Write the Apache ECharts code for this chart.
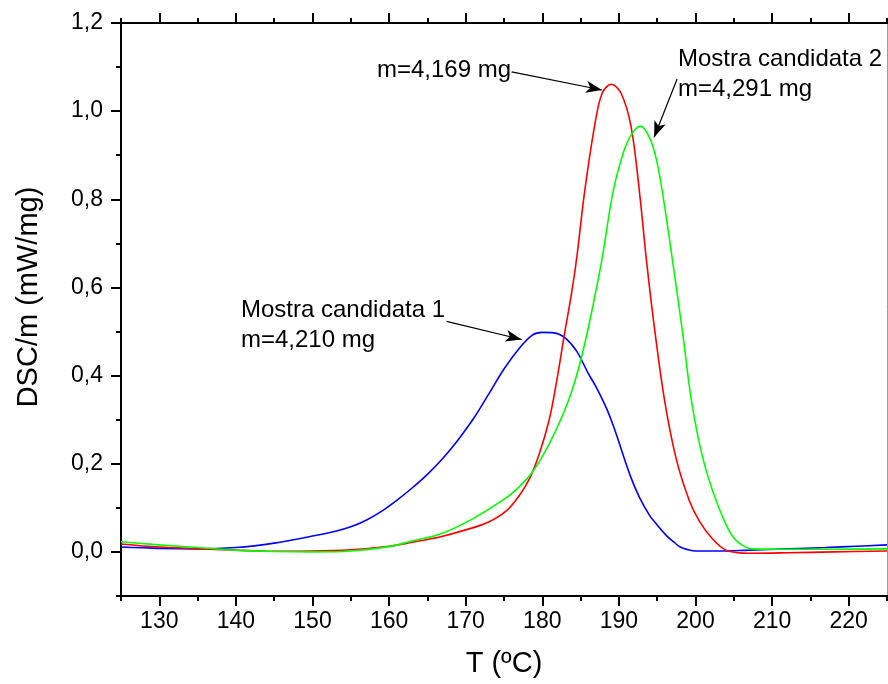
<!DOCTYPE html>
<html>
<head>
<meta charset="utf-8">
<script src="https://cdn.jsdelivr.net/npm/echarts@6/dist/echarts.min.js"></script>
<style>
html,body{margin:0;padding:0;background:#fff;}
#chart{width:888px;height:684px;}
</style>
</head>
<body>
<div id="chart"></div>
<script>
// ---- data ----
const blueT = [125,130,135,140,145,150,153,155,157,159,161,163,165,167,169,171,173,175,177,178.7,180,181.5,183,184.5,186,187,188.4,189.5,190.4,191.5,192.7,194,195,196.2,197.2,198,199,200,203,207,212,217,221,225];
const blueV = [0.011,0.008,0.007,0.010,0.020,0.036,0.047,0.057,0.072,0.092,0.117,0.145,0.176,0.212,0.254,0.302,0.358,0.415,0.462,0.492,0.498,0.497,0.485,0.455,0.405,0.375,0.325,0.275,0.228,0.172,0.123,0.083,0.061,0.037,0.022,0.011,0.005,0.002,0.002,0.004,0.007,0.010,0.013,0.016];

const redT = [125,130,135,140,145,150,155,160,163,166.6,170,173,175.3,177,178.3,179.6,180.9,181.8,182.9,183.8,184.5,185.5,186.8,187.8,189,190.3,191.6,192.7,193.6,194.7,196,197.5,199.2,200.5,202.2,204,207,212,218,225];
const redV = [0.018,0.011,0.007,0.004,0.0015,0.002,0.005,0.013,0.022,0.034,0.050,0.068,0.093,0.128,0.165,0.222,0.300,0.380,0.495,0.585,0.668,0.814,0.964,1.040,1.061,1.040,0.964,0.814,0.661,0.500,0.340,0.210,0.116,0.070,0.030,0.004,-0.003,-0.002,0.000,0.002];

const greenT = [125,130,135,140,145,150,155,160,163,166.6,170.9,175.3,177,178.3,179.6,180.9,182.3,183.6,184.8,185.9,186.8,187.8,189.2,190.3,191.4,192.8,194,194.9,195.7,197,198.3,199.5,201,202.7,204.4,205.7,207.4,212,218,225];
const greenV = [0.023,0.016,0.010,0.004,0.001,0.000,0.002,0.012,0.025,0.040,0.075,0.123,0.148,0.172,0.205,0.245,0.296,0.352,0.420,0.500,0.575,0.665,0.814,0.890,0.940,0.966,0.940,0.890,0.814,0.661,0.500,0.340,0.210,0.116,0.048,0.020,0.007,0.006,0.006,0.007];

const xMajor = [130,140,150,160,170,180,190,200,210,220];
const xMinor = [125,135,145,155,165,175,185,195,205,215,225];
const yMajor = [0,0.2,0.4,0.6,0.8,1.0,1.2];
const yMinor = [-0.1,0.1,0.3,0.5,0.7,0.9,1.1];

// annotation arrows: [from, to] in data coordinates
const arrowRed = [[176.0,1.089],[187.8,1.048]];
const arrowGreen = [[197.6,1.073],[194.6,0.941]];
const arrowBlue = [[167.5,0.523],[177.3,0.482]];

const FONT = "'Liberation Sans', Arial, Helvetica, sans-serif";
const pair = (T,V) => T.map((t,i)=>[t,V[i]]);
const fmt = v => (Math.round(v*10)/10).toFixed(1).replace('.', ',');

function xAx(pos, vals, len, labels, extra) {
  return Object.assign({
    type:'value', position:pos, min:125, max:225,
    axisLine:{show:true, onZero:false, lineStyle:{color:'#000', width:2}},
    axisTick:{show:true, inside:false, length:len, customValues:vals, lineStyle:{color:'#000', width:2}},
    axisLabel:{show:labels, customValues:vals, fontFamily:FONT, fontSize:23, color:'#000', margin:14},
    splitLine:{show:false}
  }, extra||{});
}
function yAx(pos, vals, len, labels, extra) {
  return Object.assign({
    type:'value', position:pos, min:-0.1, max:1.2,
    axisLine:{show:true, onZero:false, lineStyle:{color:'#000', width:2}},
    axisTick:{show:true, inside:false, length:len, customValues:vals, lineStyle:{color:'#000', width:2}},
    axisLabel:{show:labels, customValues:vals, formatter:fmt, fontFamily:FONT, fontSize:23, color:'#000', margin:18},
    splitLine:{show:false}
  }, extra||{});
}

const arrowLine = (a) => [
  {coord:a[0], symbol:'none'},
  {coord:a[1], symbol:'arrow', symbolSize:[9,16]}
];

const lineSeries = (name, T, V, color) => ({
  type:'line', name:name, data:pair(T,V), xAxisIndex:0, yAxisIndex:0,
  showSymbol:false, smooth:0.35, lineStyle:{color:color, width:1.6}, itemStyle:{color:color}
});

const chart = echarts.init(document.getElementById('chart'), null, {renderer:'canvas'});
const blue = lineSeries('Mostra candidata 1', blueT, blueV, '#0000ff');
blue.markLine = {silent:true, symbol:['none','arrow'], label:{show:false},
  lineStyle:{color:'#000', width:1.2, type:'solid'}, itemStyle:{color:'#000'}, emphasis:{disabled:true},
  data:[arrowLine(arrowBlue), arrowLine(arrowRed), arrowLine(arrowGreen)]};

chart.setOption({
  backgroundColor:'#fff',
  animation:false,
  grid:{left:121, right:1, top:23, bottom:88, containLabel:false},
  xAxis:[
    xAx('bottom', xMajor, 10, true, {name:'T (ºC)', nameLocation:'middle', nameGap:53,
        nameTextStyle:{fontFamily:FONT, fontSize:29, color:'#000'}}),
    xAx('bottom', xMinor, 5, false),
    xAx('top', xMajor, 10, false),
    xAx('top', xMinor, 5, false)
  ],
  yAxis:[
    yAx('left', yMajor, 10, true),
    yAx('left', yMinor, 5, false),
    {type:'value', position:'right', min:-0.1, max:1.2,
     axisLine:{show:true, onZero:false, lineStyle:{color:'#9a9a9a', width:1}},
     axisTick:{show:false}, axisLabel:{show:false}, splitLine:{show:false}}
  ],
  series:[
    blue,
    lineSeries('m=4,169 mg', redT, redV, '#ff0000'),
    lineSeries('Mostra candidata 2', greenT, greenV, '#00ff00')
  ],
  graphic:[
    {type:'text', x:29, y:297, rotation:Math.PI/2,
     style:{text:'DSC/m (mW/mg)', font:'29px '+FONT, fill:'#000', align:'center', verticalAlign:'middle'}},
    {type:'text', left:377, top:58, style:{text:'m=4,169 mg', font:'24px '+FONT, fill:'#000'}},
    {type:'text', left:678, top:44, style:{text:'Mostra candidata 2\nm=4,291 mg', font:'24px '+FONT, fill:'#000', lineHeight:30}},
    {type:'text', left:241, top:295, style:{text:'Mostra candidata 1\nm=4,210 mg', font:'24px '+FONT, fill:'#000', lineHeight:30}}
  ]
});
</script>
</body>
</html>
